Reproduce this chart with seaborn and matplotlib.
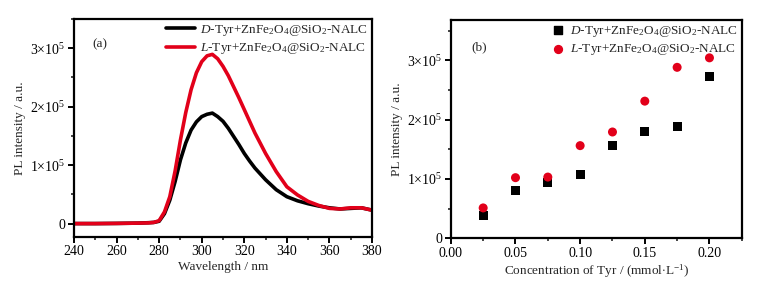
import numpy as np
import pandas as pd
import matplotlib
matplotlib.use("Agg")
import matplotlib.pyplot as plt
import seaborn as sns
from matplotlib.ticker import FuncFormatter, MultipleLocator, AutoMinorLocator

# ---------------- data ----------------
wavelength = [240, 250, 260, 270, 275, 277.5, 280, 282.5, 285, 287.5, 290, 292.5, 295, 297.5,
              300, 302.5, 305, 307.5, 310, 312.5, 315, 317.5, 320, 322.5, 325, 330, 335, 340,
              345, 350, 355, 360, 365, 370, 375, 380]
pl_D = [0.0, 0.0, 0.003, 0.008, 0.015, 0.02, 0.04, 0.17, 0.40, 0.72, 1.09, 1.38, 1.60, 1.74,
        1.83, 1.87, 1.89, 1.83, 1.75, 1.63, 1.49, 1.35, 1.20, 1.07, 0.95, 0.75, 0.58, 0.46,
        0.39, 0.34, 0.30, 0.27, 0.25, 0.26, 0.27, 0.23]
pl_L = [0.0, 0.0, 0.003, 0.008, 0.012, 0.02, 0.05, 0.20, 0.46, 0.90, 1.43, 1.90, 2.29, 2.58,
        2.77, 2.87, 2.895, 2.82, 2.69, 2.53, 2.34, 2.15, 1.95, 1.75, 1.55, 1.20, 0.89, 0.63,
        0.49, 0.38, 0.31, 0.26, 0.25, 0.27, 0.27, 0.23]

conc = [0.025, 0.05, 0.075, 0.1, 0.125, 0.15, 0.175, 0.2]
int_D = [0.39, 0.80, 0.94, 1.07, 1.56, 1.79, 1.89, 2.72]
int_L = [0.51, 1.02, 1.03, 1.56, 1.79, 2.31, 2.88, 3.04]

label_D = r"$\mathit{D}$-Tyr+ZnFe$_2$O$_4$@SiO$_2$-NALC"
label_L = r"$\mathit{L}$-Tyr+ZnFe$_2$O$_4$@SiO$_2$-NALC"
SCALE = 1e5
RED = "#E2001A"

# ---------------- style ----------------
sns.set_theme(style="ticks")
plt.rcParams["font.family"] = ["Liberation Serif", "DejaVu Serif"]
plt.rcParams["mathtext.fontset"] = "custom"
plt.rcParams["mathtext.rm"] = "Liberation Serif"
plt.rcParams["mathtext.it"] = "Liberation Serif:italic"
plt.rcParams["mathtext.bf"] = "Liberation Serif:bold"

fig = plt.figure(figsize=(7.8, 2.88), dpi=100)
ax1 = fig.add_axes([0.0949, 0.177, 0.382, 0.757])
ax2 = fig.add_axes([0.578, 0.173, 0.373, 0.758])

dfa = pd.DataFrame({
    "wl": wavelength * 2,
    "pl": np.array(pl_D + pl_L) * SCALE,
    "s": [label_D] * len(pl_D) + [label_L] * len(pl_L),
})
sns.lineplot(data=dfa, x="wl", y="pl", hue="s", palette=["black", RED], lw=2.6, ax=ax1,
             legend=False)
ax1.plot([], [], color="black", lw=2.6, label=label_D)
ax1.plot([], [], color=RED, lw=2.6, label=label_L)

dfb = pd.DataFrame({
    "c": conc * 2,
    "i": np.array(int_D + int_L) * SCALE,
    "s": [label_D] * len(int_D) + [label_L] * len(int_L),
})
sns.scatterplot(data=dfb, x="c", y="i", hue="s", style="s", palette=["black", RED],
                markers=["s", "o"], s=42, edgecolor="none", ax=ax2, legend=False)
ax2.scatter([], [], marker="s", color="black", s=28, label=label_D)
ax2.scatter([], [], marker="o", color=RED, s=32, label=label_L)

def sci(v, pos):
    n = int(round(v / SCALE))
    if n == 0:
        return "0"
    return r"%d$\times$10$^{5}$" % n

fs = 9.5
for ax in (ax1, ax2):
    for sp in ax.spines.values():
        sp.set_linewidth(1.6)
        sp.set_color("black")
    ax.yaxis.set_major_locator(MultipleLocator(1e5))
    ax.yaxis.set_minor_locator(AutoMinorLocator(2))
    ax.xaxis.set_minor_locator(AutoMinorLocator(2))
    ax.yaxis.set_major_formatter(FuncFormatter(sci))
    ax.tick_params(which="major", direction="out", length=4, width=1.4, labelsize=10,
                   colors="black", pad=2)
    ax.tick_params(which="minor", direction="out", length=2.5, width=1.2)
    ax.set_ylabel("PL intensity / a.u.", fontsize=fs, labelpad=3)

ax1.set_xlim(240, 380)
ax1.set_ylim(-0.23e5, 3.5e5)
ax1.xaxis.set_major_locator(MultipleLocator(20))
ax1.set_xlabel("Wavelength / nm", fontsize=fs, labelpad=2)
ax1.text(0.06, 0.87, "(a)", transform=ax1.transAxes, fontsize=fs)
ax1.legend(loc="upper right", fontsize=fs, frameon=False, handlelength=2.2,
           borderaxespad=0.1, borderpad=0.2, labelspacing=0.25, handletextpad=0.4)

ax2.set_xlim(0.0, 0.225)
ax2.set_ylim(0, 3.68e5)
ax2.xaxis.set_major_locator(MultipleLocator(0.05))
ax2.xaxis.set_major_formatter(FuncFormatter(lambda v, p: "%.2f" % v))
ax2.set_xlabel(r"Concentration of Tyr / (mmol$\cdot$L$^{-1}$)", fontsize=fs, labelpad=2)
ax2.text(0.07, 0.86, "(b)", transform=ax2.transAxes, fontsize=fs)
ax2.legend(loc="upper right", fontsize=fs, frameon=False, handlelength=0.8,
           borderaxespad=0.1, borderpad=0.2, labelspacing=0.25, handletextpad=0.5)

fig.savefig("out.png", dpi=100)
